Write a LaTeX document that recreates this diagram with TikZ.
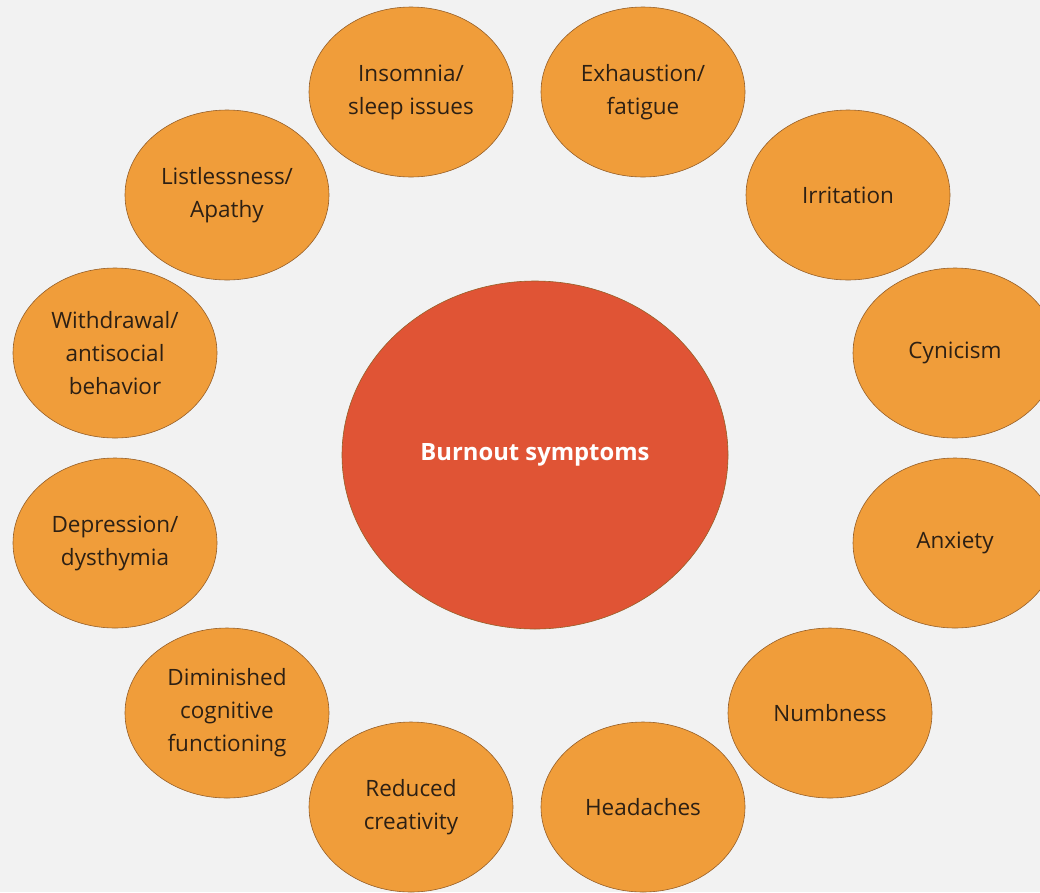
\documentclass[tikz,border=0pt]{standalone}
\usepackage{fontspec}
\setmainfont{Open Sans}
\usepackage{tikz}
\usetikzlibrary{shapes.geometric}
\definecolor{bgrey}{RGB}{242,242,242}
\definecolor{sympt}{RGB}{240,157,58}
\definecolor{burn}{RGB}{224,84,53}
\definecolor{rimcol}{RGB}{150,95,40}
\definecolor{txtcol}{RGB}{45,32,20}
\tikzset{symptom/.style={ellipse,draw=rimcol,fill=sympt,line width=0.6pt,
		minimum width=204pt,minimum height=170pt,inner sep=0pt,align=center,
		text=txtcol,font=\fontsize{22.5}{33}\selectfont},
	core/.style={ellipse,draw=rimcol,fill=burn,line width=0.6pt,
		minimum width=386pt,minimum height=348pt,align=center,
		text=white,font=\fontsize{23.8}{30}\selectfont\bfseries}}

\begin{document}
\begin{tikzpicture}
	[x=1pt,y=-1pt]
	\fill[bgrey] (0,0) rectangle (1040,892);
	\useasboundingbox (0,0) rectangle (1040,892);
	\node [core] (burnout) at (535,455) {Burnout symptoms};
	% top row
	\node [symptom] (insomnia) at (411,92) {Insomnia/\\sleep issues};
	\node [symptom] (exhaust) at (643,92) {Exhaustion/\\fatigue};
	% right side
	\node [symptom] (irrit) at (848,195) {Irritation};
	\node [symptom] (cynic) at (955,353) {Cynicism};
	\node [symptom] (anxiety) at (955,543) {Anxiety};
	\node [symptom] (numb) at (830,713) {Numbness};
	% bottom row
	\node [symptom] (headache) at (643,807) {Headaches};
	\node [symptom] (creative) at (411,807) {Reduced\\creativity};
	% left side
	\node [symptom] (cognitive) at (227,713) {Diminished\\cognitive\\functioning};
	\node [symptom] (depress) at (115,543) {Depression/\\dysthymia};
	\node [symptom] (withdraw) at (115,353) {Withdrawal/\\antisocial\\behavior};
	\node [symptom] (apathy) at (227,195) {Listlessness/\\Apathy};
\end{tikzpicture}
\end{document}
